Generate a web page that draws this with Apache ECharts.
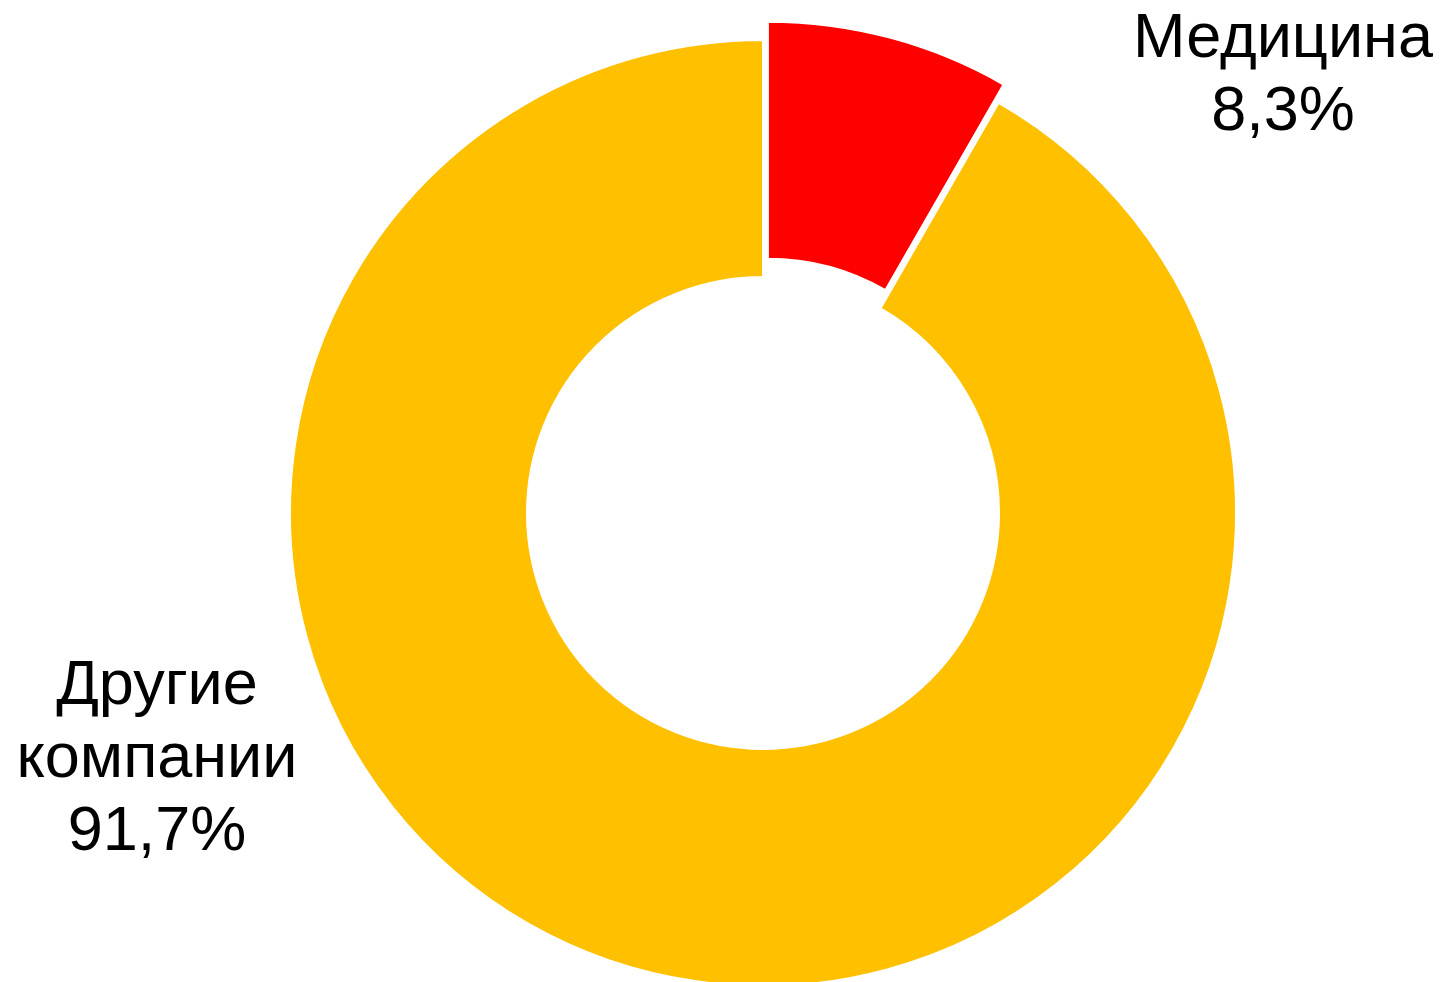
<!DOCTYPE html>
<html>
<head>
<meta charset="utf-8">
<script src="https://cdn.jsdelivr.net/npm/echarts@6/dist/echarts.min.js"></script>
<style>
	html, body { margin: 0; padding: 0; background: #fff; }
	#chart { width: 1444px; height: 982px; }
</style>
</head>
<body>
<div id="chart"></div>
<script>
// данные
var categories = ['Медицина', 'Другие компании'];
var values = [8.3, 91.7];
var colors = ['#FF0000', '#FFC000'];
// где стоят подписи (центр блока текста)
var labelPos = [[1283, 76], [157, 760]];

var myChart = echarts.init(document.getElementById('chart'));

var data = [];
var labelData = [];
for (var i = 0; i < categories.length; i++) {
	data.push({
		name: categories[i],
		value: values[i],
		selected: i === 0,
		itemStyle: { color: colors[i] }
	});
	labelData.push({ name: categories[i], value: values[i] });
}

var center = [763, 513];
var radius = [236, 473];

option = {
	animation: false,
	series: [
		{
			// сам бублик
			type: 'pie',
			center: center,
			radius: radius,
			startAngle: 90,
			clockwise: true,
			selectedMode: 'single',
			selectedOffset: 19,
			itemStyle: {
				borderColor: '#fff',
				borderWidth: 2
			},
			emphasis: { disabled: true },
			label: { show: false },
			labelLine: { show: false },
			data: data
		},
		{
			// только подписи
			type: 'pie',
			silent: true,
			center: center,
			radius: radius,
			startAngle: 90,
			clockwise: true,
			avoidLabelOverlap: false,
			itemStyle: { color: 'rgba(0,0,0,0)' },
			emphasis: { disabled: true },
			label: {
				show: true,
				position: 'outside',
				color: '#000',
				fontFamily: '"Liberation Sans", Arial, sans-serif',
				fontSize: 63,
				lineHeight: 73,
				align: 'center',
				formatter: function (p) {
					return p.name.replace(' ', '\n') + '\n' + p.value.toFixed(1).replace('.', ',') + '%';
				}
			},
			labelLine: { show: false },
			labelLayout: function (params) {
				var pos = labelPos[params.dataIndex];
				return {
					x: pos[0],
					y: pos[1],
					align: 'center',
					verticalAlign: 'middle'
				};
			},
			data: labelData
		}
	]
};
myChart.setOption(option);
</script>
</body>
</html>
